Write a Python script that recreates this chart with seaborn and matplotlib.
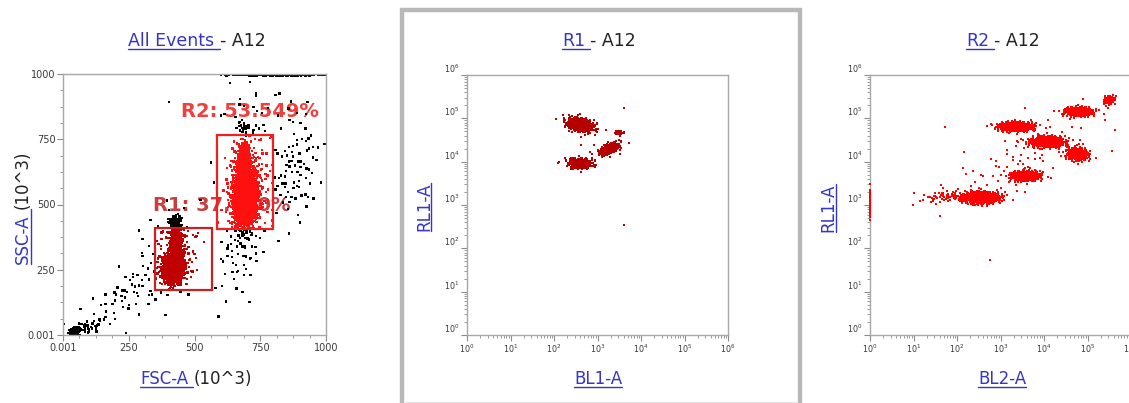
import numpy as np
import pandas as pd
import seaborn as sns
import matplotlib
matplotlib.use("Agg")
import matplotlib.pyplot as plt
import matplotlib.ticker as mticker
from matplotlib.patches import Rectangle
from matplotlib.lines import Line2D

# ---------------- data ----------------
# Panel 1 "All Events": FSC-A / SSC-A (10^3) populations
p1_pop = ["debris", "debris_tail", "diag_low", "diag_mid", "below_R2", "right_R2",
          "above_R2", "top_edge", "R1_cap", "R1_low", "R1_high", "R1_halo",
          "R2_main", "R2_top", "R2_halo", "R2_cap"]
p1_cx = [45, 90, 230, 380, 660, 880, 720, 820, 425, 420, 430, 440, 692, 688, 700, 690]
p1_cy = [12, 30, 150, 330, 280, 640, 870, 997, 438, 255, 355, 300, 530, 660, 560, 790]
p1_sx = [8, 35, 70, 60, 45, 55, 90, 90, 12, 20, 11, 40, 22, 12, 45, 15]
p1_sy = [7, 15, 55, 90, 80, 110, 60, 1.5, 8, 28, 32, 70, 55, 35, 110, 15]
p1_rho = [0.3, 0.4, 0.6, 0.5, 0.2, 0.2, 0, 0, 0, 0.1, 0, 0.2, 0.1, 0, 0.1, 0]
p1_n = [160, 40, 45, 50, 40, 90, 25, 260, 35, 800, 450, 90, 1600, 400, 220, 20]

# gates (x0, x1, y0, y1) and labels
gate_names = ["R1", "R2"]
gate_x0 = [350, 585]
gate_x1 = [565, 800]
gate_y0 = [172, 405]
gate_y1 = [410, 765]
gate_labels = ["R1: 37.470%", "R2: 53.549%"]
gate_label_x = [343, 450]
gate_label_y = [498, 855]

# Panel 2 "R1": log10(BL1-A), log10(RL1-A) clusters
r1_pop = ["A", "B", "C", "D"]
r1_lx = [2.6, 2.6, 3.27, 3.5]
r1_ly = [4.85, 3.96, 4.3, 4.67]
r1_sx = [0.16, 0.14, 0.11, 0.05]
r1_sy = [0.085, 0.06, 0.07, 0.025]
r1_rho = [-0.35, -0.1, 0.55, 0.0]
r1_n = [380, 260, 260, 35]
r1_out_lx = [3.6, 3.6, 2.63, 2.82, 2.93, 3.2, 3.72, 3.51, 2.1]
r1_out_ly = [5.23, 2.53, 4.39, 4.22, 4.39, 4.73, 4.42, 4.17, 3.98]

# Panel 3 "R2": log10(BL2-A), log10(RL1-A) clusters
r2_pop = ["c1", "c1_tail", "c2", "c3", "c4", "c5", "c6", "c7", "diffuse", "edge"]
r2_lx = [2.55, 1.75, 3.58, 3.35, 4.08, 4.77, 4.8, 5.5, 3.6, 0.0]
r2_ly = [3.17, 3.2, 3.67, 4.81, 4.46, 4.17, 5.15, 5.42, 4.1, 3.04]
r2_sx = [0.2, 0.3, 0.16, 0.19, 0.2, 0.12, 0.16, 0.06, 0.9, 0.0]
r2_sy = [0.06, 0.08, 0.055, 0.05, 0.06, 0.07, 0.05, 0.05, 0.55, 0.14]
r2_rho = [0, 0.3, 0, 0, 0, -0.1, 0, 0.2, 0.75, 0]
r2_n = [900, 60, 450, 650, 550, 350, 380, 90, 90, 120]
r2_out_lx = [2.75, 1.72, 0.98, 1.62]
r2_out_ly = [1.74, 4.81, 3.0, 2.74]

log_ticks = [0, 1, 2, 3, 4, 5, 6]
lin_ticks = [0, 250, 500, 750, 1000]
lin_labels = ["0.001", "250", "500", "750", "1000"]

# ---------------- helpers ----------------
def halton(idx, base):
    out = np.zeros(len(idx))
    f = 1.0
    i = idx.copy()
    while np.any(i > 0):
        f /= base
        out += f * (i % base)
        i //= base
    return out


def cloud(cx, cy, sx, sy, rho, n, start):
    k = np.arange(start + 1, start + n + 1)
    u1 = halton(k, 2)
    u2 = halton(k, 3)
    r = np.sqrt(-2 * np.log(u1))
    th = 2 * np.pi * u2
    z1, z2 = r * np.cos(th), r * np.sin(th)
    x = cx + sx * z1
    y = cy + sy * (rho * z1 + np.sqrt(1 - rho ** 2) * z2)
    return x, y


def build(cxs, cys, sxs, sys_, rhos, ns):
    xs, ys = [], []
    for i, (cx, cy, sx, sy, rho, n) in enumerate(zip(cxs, cys, sxs, sys_, rhos, ns)):
        x, y = cloud(cx, cy, sx, sy, rho, n, 37 * i + 11)
        xs.append(x)
        ys.append(y)
    return np.concatenate(xs), np.concatenate(ys)


# ---------------- figure ----------------
W, H = 1129, 403
sns.set_theme(style="white")
plt.rcParams["font.family"] = ["DejaVu Sans"]
fig = plt.figure(figsize=(W / 100, H / 100), dpi=100)
fig.patch.set_facecolor("white")

BLUE = "#3535c8"
SPINE = "#a8a8a8"
TICKC = "#8a8a8a"
LBLC = "#3a3a3a"


def axes_px(l, t, r, b):
    return fig.add_axes([l / W, 1 - b / H, (r - l) / W, (b - t) / H])


ax1 = axes_px(63, 74, 326, 335)
ax2 = axes_px(467, 75, 728, 335)
ax3 = axes_px(870, 75, 1131, 335)

# ---- panel 1 ----
x1, y1 = build(p1_cx, p1_cy, p1_sx, p1_sy, p1_rho, p1_n)
gate = np.array(["none"] * len(x1), dtype=object)
for g, gx0, gx1, gy0, gy1 in zip(gate_names, gate_x0, gate_x1, gate_y0, gate_y1):
    m = (x1 >= gx0) & (x1 <= gx1) & (y1 >= gy0) & (y1 <= gy1)
    gate[m] = g
df1 = pd.DataFrame({"FSC-A": x1, "SSC-A": y1, "gate": gate})
order = {"none": 0, "R1": 1, "R2": 2}
df1 = df1.sort_values("gate", key=lambda s: s.map(order), kind="stable")
sns.scatterplot(data=df1, x="FSC-A", y="SSC-A", hue="gate",
                palette={"none": "black", "R1": "#c00000", "R2": "#ff1010"},
                marker="s", s=3, linewidth=0, legend=False, ax=ax1, zorder=2)
label_cols = ["#c42a2a", "#f02a2a"]
gate_cols = ["#cc2020", "#f02020"]
for i in range(2):
    ax1.add_patch(Rectangle((gate_x0[i], gate_y0[i]), gate_x1[i] - gate_x0[i],
                            gate_y1[i] - gate_y0[i], fill=False,
                            edgecolor=gate_cols[i], lw=1.6, zorder=3))
    ax1.text(gate_label_x[i], gate_label_y[i], gate_labels[i], color=label_cols[i],
             fontsize=14, fontweight="bold", va="center", ha="left", zorder=1, alpha=0.9)
ax1.set_xlim(0, 1000)
ax1.set_ylim(0, 1000)
ax1.set_xticks(lin_ticks)
ax1.set_xticklabels(lin_labels)
ax1.set_yticks(lin_ticks)
ax1.set_yticklabels(lin_labels)
ax1.xaxis.set_minor_locator(mticker.AutoMinorLocator(4))
ax1.yaxis.set_minor_locator(mticker.AutoMinorLocator(4))

# ---- panel 2 ----
lx2, ly2 = build(r1_lx, r1_ly, r1_sx, r1_sy, r1_rho, r1_n)
lx2 = np.concatenate([lx2, r1_out_lx])
ly2 = np.concatenate([ly2, r1_out_ly])
df2 = pd.DataFrame({"BL1-A": 10 ** lx2, "RL1-A": 10 ** ly2})
sns.scatterplot(data=df2, x="BL1-A", y="RL1-A", color="#b40000", marker="s", s=3,
                linewidth=0, ax=ax2, zorder=2)

# ---- panel 3 ----
lx3, ly3 = build(r2_lx, r2_ly, r2_sx, r2_sy, r2_rho, r2_n)
lx3 = np.concatenate([lx3, r2_out_lx])
ly3 = np.concatenate([ly3, r2_out_ly])
df3 = pd.DataFrame({"BL2-A": 10 ** lx3, "RL1-A": 10 ** ly3})
sns.scatterplot(data=df3, x="BL2-A", y="RL1-A", color="#ff0000", marker="s", s=4,
                linewidth=0, ax=ax3, zorder=3)
for coll in ax3.collections:
    coll.set_clip_on(False)
    coll.set_zorder(3)

for ax in (ax2, ax3):
    ax.set_xscale("log")
    ax.set_yscale("log")
    ax.set_xlim(1, 1e6)
    ax.set_ylim(1, 1e6)
    ax.set_xticks([10.0 ** k for k in log_ticks])
    ax.set_yticks([10.0 ** k for k in log_ticks])
    ax.xaxis.set_major_formatter(mticker.LogFormatterSciNotation())
    ax.yaxis.set_major_formatter(mticker.LogFormatterSciNotation())
    ax.xaxis.set_minor_locator(mticker.LogLocator(base=10, subs=np.arange(2, 10), numticks=20))
    ax.yaxis.set_minor_locator(mticker.LogLocator(base=10, subs=np.arange(2, 10), numticks=20))
    ax.xaxis.set_minor_formatter(mticker.NullFormatter())
    ax.yaxis.set_minor_formatter(mticker.NullFormatter())

for ax, fs in ((ax1, 7), (ax2, 5.8), (ax3, 5.8)):
    ax.set_xlabel("")
    ax.set_ylabel("")
    ax.set_facecolor("white")
    for sp in ax.spines.values():
        sp.set_color(SPINE)
        sp.set_linewidth(1.0)
    ax.tick_params(which="major", direction="out", length=4, width=0.8, color=TICKC,
                   labelsize=fs, labelcolor=LBLC, pad=1.5, bottom=True, left=True)
    ax.tick_params(which="minor", direction="out", length=2, width=0.6, color=TICKC,
                   bottom=True, left=True)

for ax in (ax2, ax3):
    for t in ax.yaxis.get_major_ticks():
        t.label1.set_va("bottom")

# ---- middle panel frame ----
fig.add_artist(Rectangle((402 / W, -0.05), 398 / W, 1.05 - 10 / H, transform=fig.transFigure,
                         fill=False, edgecolor="#b8b8b8", lw=3.2))
fig.add_artist(Line2D([405 / W, 797 / W], [1.5 / H, 1.5 / H], transform=fig.transFigure,
                      color="#e2e2e2", lw=0.8))

# ---- rich (underlined) labels ----
renderer = fig.canvas.get_renderer()


def text_w(s, fs):
    t = fig.text(0, 0, s, fontsize=fs)
    w = t.get_window_extent(renderer=renderer).width
    t.remove()
    return w


def rich(parts, cx, cy, rot=0, fs=11):
    widths = [text_w(s, fs) for s, _, _ in parts]
    gap = text_w("a a", fs) - text_w("aa", fs)
    total = sum(widths) + gap * (len(parts) - 1)
    X, Y = cx, H - cy
    cap = fs * 100 / 72 * 0.72
    pos = (X if rot == 0 else Y) - total / 2
    base = (Y - cap / 2) if rot == 0 else (X + cap / 2)
    for k, ((s, col, ul), w) in enumerate(zip(parts, widths)):
        ext = gap if k < len(parts) - 1 else 0
        if rot == 0:
            fig.text(pos / W, base / H, s, color=col, fontsize=fs, ha="left", va="baseline")
            if ul:
                fig.add_artist(Line2D([pos / W, (pos + w + ext) / W], [(base - 2.5) / H] * 2,
                                      transform=fig.transFigure, color=col, lw=1.0))
        else:
            fig.text(base / W, pos / H, s, color=col, fontsize=fs, rotation=90,
                     rotation_mode="anchor", ha="left", va="baseline")
            if ul:
                fig.add_artist(Line2D([(base + 2.5) / W] * 2, [pos / H, (pos + w + ext) / H],
                                      transform=fig.transFigure, color=col, lw=1.0))
        pos += w + gap


TFS = 12.5
LFS = 12
rich([("All Events", BLUE, True), ("- A12", "#222222", False)], 197, 40, fs=TFS)
rich([("R1", BLUE, True), ("- A12", "#222222", False)], 599, 40, fs=TFS)
rich([("R2", BLUE, True), ("- A12", "#222222", False)], 1003, 40, fs=TFS)
rich([("FSC-A", BLUE, True), ("(10^3)", "#222222", False)], 196, 378, fs=LFS)
rich([("BL1-A", BLUE, True)], 598, 378, fs=LFS)
rich([("BL2-A", BLUE, True)], 1002, 378, fs=LFS)
rich([("SSC-A", BLUE, True), ("(10^3)", "#222222", False)], 22, 207, rot=90, fs=LFS)
rich([("RL1-A", BLUE, True)], 423, 207, rot=90, fs=LFS)
rich([("RL1-A", BLUE, True)], 827, 208, rot=90, fs=LFS)

fig.savefig("out.png", dpi=100, facecolor="white")
